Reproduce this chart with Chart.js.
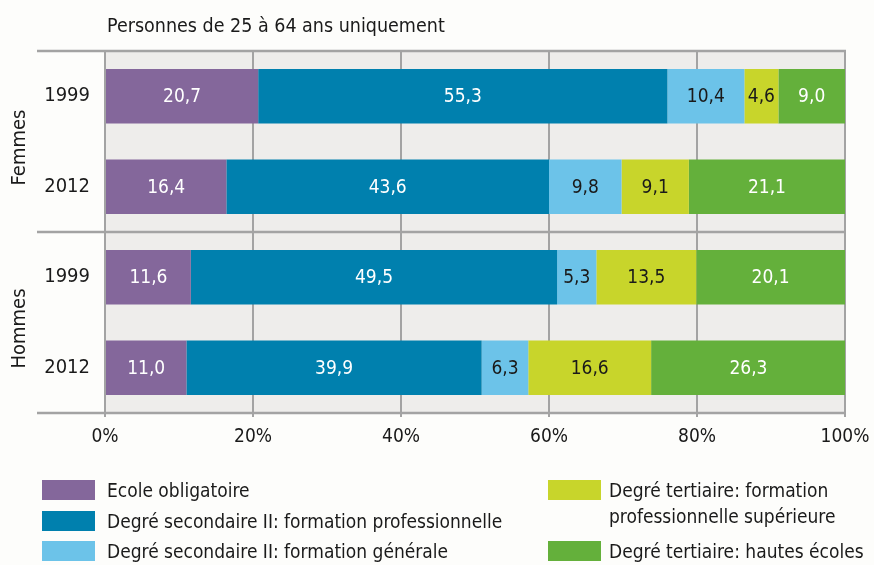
<!DOCTYPE html>
<html lang="fr">
<head>
<meta charset="utf-8">
<script src="https://cdn.jsdelivr.net/npm/chart.js@4.4.0/dist/chart.umd.min.js"></script>
<style>
  html, body { margin: 0; padding: 0; background: #fdfdfb; }
  #cadre {
    position: relative; width: 874px; height: 565px; overflow: hidden;
    font-family: "Liberation Sans Narrow", "DejaVu Sans Condensed", "Roboto", sans-serif;
    color: #1a1a1a;
  }
  #cadre canvas { position: absolute; left: 0; top: 0; }
  .titre { position: absolute; left: 107px; top: 14px; font-size: 19.5px; }
  .legende { position: absolute; font-size: 19px; line-height: 26px; white-space: pre-line; }
  .legende .carre { position: absolute; width: 53px; height: 20px; }
</style>
</head>
<body>
<div id="cadre">
  <canvas id="graphique" width="874" height="565"></canvas>
  <div class="titre">Personnes de 25 à 64 ans uniquement</div>
  <div id="legende"></div>
</div>
<script>
// Données (en %)
const annees = ["1999", "2012", "1999", "2012"];
const groupes = ["Femmes", "Hommes"];
const niveaux = [
    "Ecole obligatoire",
    "Degré secondaire II: formation professionnelle",
    "Degré secondaire II: formation générale",
    "Degré tertiaire: formation\nprofessionnelle supérieure",
    "Degré tertiaire: hautes écoles"
];
const ecoleObligatoire = [20.7, 16.4, 11.6, 11.0];
const secondairePro = [55.3, 43.6, 49.5, 39.9];
const secondaireGen = [10.4, 9.8, 5.3, 6.3];
const tertiairePro = [4.6, 9.1, 13.5, 16.6];
const hautesEcoles = [9.0, 21.1, 20.1, 26.3];
const graduations = [0, 20, 40, 60, 80, 100];

const couleurs = ["#84679b", "#0080ae", "#6cc3e9", "#c8d52b", "#64b03b"];
const couleursTexte = ["#ffffff", "#ffffff", "#1a1a1a", "#1a1a1a", "#ffffff"];
const series = [ecoleObligatoire, secondairePro, secondaireGen, tertiairePro, hautesEcoles];

const police = '"Liberation Sans Narrow", "DejaVu Sans Condensed", "Roboto", sans-serif';

// Fond gris de la zone de tracé + lignes horizontales de séparation
const fondEtLignes = {
    id: "fondEtLignes",
    beforeDraw(chart) {
        const { ctx, chartArea: a } = chart;
        ctx.save();
        ctx.fillStyle = "#eeedeb";
        ctx.fillRect(a.left, a.top, a.right - a.left, a.bottom - a.top);
        ctx.restore();
    },
    beforeDatasetsDraw(chart) {
        const { ctx, chartArea: a, scales } = chart;
        const milieu = (scales.y.getPixelForValue(1) + scales.y.getPixelForValue(2)) / 2;
        ctx.save();
        ctx.strokeStyle = "#a3a3a3";
        ctx.lineWidth = 2.5;
        [a.top, milieu, a.bottom].forEach(y => {
            ctx.beginPath();
            ctx.moveTo(37, y);
            ctx.lineTo(a.right + 1, y);
            ctx.stroke();
        });
        // étiquettes de groupe, texte vertical
        ctx.fillStyle = "#1a1a1a";
        ctx.font = "20px " + police;
        ctx.textAlign = "center";
        ctx.textBaseline = "middle";
        const bornes = [[a.top, milieu], [milieu, a.bottom]];
        groupes.forEach((g, i) => {
            ctx.save();
            ctx.translate(20, (bornes[i][0] + bornes[i][1]) / 2 + 6);
            ctx.rotate(-Math.PI / 2);
            ctx.fillText(g, 0, 0);
            ctx.restore();
        });
        ctx.restore();
    }
};

// Valeurs écrites au centre de chaque segment
const valeursDansBarres = {
    id: "valeursDansBarres",
    afterDatasetsDraw(chart) {
        const { ctx } = chart;
        ctx.save();
        ctx.font = "19px " + police;
        ctx.textAlign = "center";
        ctx.textBaseline = "middle";
        chart.data.datasets.forEach((ds, i) => {
            const meta = chart.getDatasetMeta(i);
            ctx.fillStyle = couleursTexte[i];
            meta.data.forEach((barre, j) => {
                const x = (barre.x + barre.base) / 2;
                ctx.fillText(ds.data[j].toFixed(1).replace(".", ","), x, barre.y + 1);
            });
        });
        ctx.restore();
    }
};

new Chart(document.getElementById("graphique").getContext("2d"), {
    type: "bar",
    data: {
        labels: annees,
        datasets: series.map((valeurs, i) => ({
            label: niveaux[i],
            data: valeurs,
            backgroundColor: couleurs[i],
            borderWidth: 0,
            categoryPercentage: 1,
            barPercentage: 0.6
        }))
    },
    options: {
        indexAxis: "y",
        responsive: false,
        animation: false,
        layout: { padding: { top: 51, right: 29, left: 0, bottom: 0 } },
        scales: {
            x: {
                stacked: true,
                min: 0,
                max: 100,
                afterBuildTicks: s => { s.ticks = graduations.map(v => ({ value: v })); },
                afterFit: s => { s.height = 152; s.paddingLeft = 0; s.paddingRight = 0; },
                border: { display: false },
                grid: { color: "#a3a3a3", lineWidth: 2, tickLength: 4 },
                ticks: {
                    color: "#1a1a1a",
                    font: { family: police, size: 19 },
                    padding: 9,
                    maxRotation: 0,
                    callback: v => v + "%"
                }
            },
            y: {
                stacked: true,
                afterFit: s => { s.width = 105; s.paddingTop = 0; s.paddingBottom = 0; },
                border: { display: false },
                grid: { display: false },
                ticks: {
                    color: "#1a1a1a",
                    font: { family: police, size: 20 },
                    padding: 7
                }
            }
        },
        plugins: {
            legend: { display: false },
            tooltip: { enabled: false }
        }
    },
    plugins: [fondEtLignes, valeursDansBarres]
});

// Légende en HTML, deux colonnes
const placesLegende = [
    { x: 42, y: 477, decalage: 65 }, { x: 42, y: 508, decalage: 65 }, { x: 42, y: 538, decalage: 65 },
    { x: 548, y: 477, decalage: 61 }, { x: 548, y: 538, decalage: 61 }
];
const blocLegende = document.getElementById("legende");
niveaux.forEach((nom, i) => {
    const p = placesLegende[i];
    const item = document.createElement("div");
    item.className = "legende";
    item.style.left = (p.x + p.decalage) + "px";
    item.style.top = p.y + "px";
    item.textContent = nom;
    const carre = document.createElement("span");
    carre.className = "carre";
    carre.style.background = couleurs[i];
    carre.style.left = (-p.decalage) + "px";
    carre.style.top = "3px";
    item.appendChild(carre);
    blocLegende.appendChild(item);
});
</script>
</body>
</html>
